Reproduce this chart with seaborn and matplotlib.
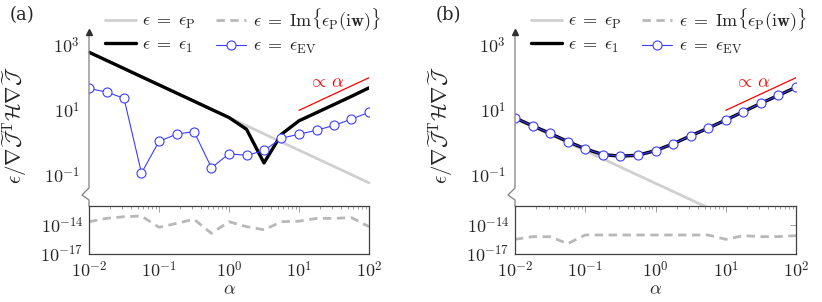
"""
plot.py - Two-panel log-log chart with a broken y-axis (upper: scaling, lower: imaginary part).
"""

import seaborn as sns
import matplotlib.pyplot as plt

#####################################
# Data
#####################################

alpha = [0.01, 0.0178, 0.0316, 0.0562, 0.1, 0.178, 0.316, 0.562, 1.0,
         1.78, 3.16, 5.62, 10.0, 17.8, 31.6, 56.2, 100.0]

# panel (a)
eps_p_a = [603, 339, 191, 107, 60.3, 33.9, 19.1, 10.7, 6.03,
           3.39, 1.91, 1.07, 0.603, 0.339, 0.191, 0.107, 0.0603]
eps_1_a = [603, 339, 191, 107, 60.3, 33.9, 19.1, 10.7, 6.03,
           2.63, 0.245, 1.86, 4.79, 8.5, 15.1, 26.9, 49.0]
eps_ev_a = [46.8, 36.3, 23.4, 0.120, 1.12, 1.86, 2.24, 0.174, 0.468,
            0.417, 0.589, 1.40, 1.86, 2.45, 3.47, 5.37, 8.71]
eps_im_a = [2.2e-14, 4.9e-14, 7.2e-14, 8.5e-14, 5.8e-15, 1.48e-14, 3.9e-14, 1.38e-15, 2.2e-14,
            6.8e-15, 3.2e-15, 2.2e-14, 2.5e-14, 4.9e-14, 4.9e-14, 5.8e-14, 6.8e-15]

# panel (b)
eps_p_b = [5.81, 3.27, 1.84, 1.03, 0.581, 0.327, 0.184, 0.103, 0.0581,
           0.0327, 0.0184, 0.0103, 0.00581, 0.00327, 0.00184, 0.00103, 0.000581]
eps_1_b = [5.81, 3.37, 1.96, 1.11, 0.661, 0.443, 0.394, 0.423, 0.587,
           0.942, 1.66, 2.86, 5.05, 9.10, 16.4, 28.8, 51.1]
eps_ev_b = [5.81, 3.37, 1.96, 1.11, 0.661, 0.443, 0.394, 0.423, 0.587,
            0.942, 1.66, 2.86, 5.05, 9.10, 16.4, 28.8, 51.1]
eps_im_b = [3.3e-16, 6.2e-16, 6.2e-16, 1.17e-16, 9.3e-16, 9.3e-16, 9.3e-16, 9.3e-16, 9.3e-16,
            9.3e-16, 9.3e-16, 9.3e-16, 3.3e-16, 7.9e-16, 6.3e-16, 6.3e-16, 7.9e-16]

# reference slope line "proportional to alpha"
ref_x = [10.0, 100.0]
ref_y = [10.0, 100.0]

panel_tags = ["(a)", "(b)"]
xticks = [1e-2, 1e-1, 1e0, 1e1, 1e2]
xtick_labels = [r"$10^{-2}$", r"$10^{-1}$", r"$10^{0}$", r"$10^{1}$", r"$10^{2}$"]
yticks_up = [1e-1, 1e1, 1e3]
ytick_labels_up = [r"$10^{-1}$", r"$10^{1}$", r"$10^{3}$"]
yticks_lo = [1e-17, 1e-14]
ytick_labels_lo = [r"$10^{-17}$", r"$10^{-14}$"]

#####################################
# Styling
#####################################

sns.set_style("white")
plt.rcParams["mathtext.fontset"] = "cm"
plt.rcParams["font.family"] = ["DejaVu Serif"]

W, H = 822, 302
FS = 13
GRAY_LINE = "#d0d0d0"
DASH_GRAY = "#b8b8b8"
BLUE = "#3c3cff"
SPINE = "#808080"
BOX = "#404040"


def draw_panel(fig, left_px, width_px, tag, eps_p, eps_1, eps_ev, eps_im):
    up = fig.add_axes([left_px / W, 1 - 206 / H, width_px / W, 174 / H])
    lo = fig.add_axes([left_px / W, 1 - 254 / H, width_px / W, 48.3 / H])
    up.patch.set_alpha(0)

    # upper part
    sns.lineplot(x=alpha, y=eps_p, ax=up, color=GRAY_LINE, lw=2.0,
                 label=r"$\epsilon\;=\;\epsilon_{\mathrm{P}}$", clip_on=False, legend=False)
    sns.lineplot(x=alpha, y=eps_1, ax=up, color="black", lw=2.4,
                 label=r"$\epsilon\;=\;\epsilon_{1}$", legend=False)
    sns.lineplot(x=alpha, y=eps_ev, ax=up, color=BLUE, lw=0.8, marker="o", ms=6.5,
                 markerfacecolor="white", markeredgecolor=BLUE, markeredgewidth=0.8,
                 label=r"$\epsilon\;=\;\epsilon_{\mathrm{EV}}$", legend=False)
    sns.lineplot(x=ref_x, y=ref_y, ax=up, color="red", lw=0.9, legend=False)
    up.text(24, 75, r"$\propto\,\alpha$", color="red", fontsize=FS, ha="center", va="center")

    up.set_xscale("log")
    up.set_yscale("log")
    up.set_xlim(1e-2, 1e2)
    up.set_ylim(10 ** -1.93, 10 ** 3.40)
    for s in up.spines.values():
        s.set_visible(False)
    up.set_xticks([])
    up.set_yticks(yticks_up)
    up.set_yticklabels(ytick_labels_up, fontsize=FS)
    up.minorticks_off()
    up.tick_params(axis="y", direction="inout", length=5, width=0.8, color=SPINE, pad=4)
    up.set_xlabel("")
    up.set_ylabel("")

    # left spine with the break zig-zag and an arrow on top
    h = 174.0
    dx = -7.0 / width_px
    up.plot([0, 0, dx, 0, 0], [1, 18 / h, 11 / h, 6 / h, 0], color=SPINE, lw=0.9,
            transform=up.transAxes, clip_on=False)
    up.plot([0], [1], marker="^", ms=4.5, color="#303030", transform=up.transAxes, clip_on=False)

    # lower part
    sns.lineplot(x=alpha, y=eps_im, ax=lo, color=DASH_GRAY, lw=2.0, linestyle=(0, (3, 2)),
                 label=r"$\epsilon\;=\;\mathrm{Im}\{\epsilon_{\mathrm{P}}(\mathrm{i}\mathbf{w})\}$",
                 legend=False)
    lo.set_xscale("log")
    lo.set_yscale("log")
    lo.set_xlim(1e-2, 1e2)
    lo.set_ylim(1e-17, 1e-12)
    lo.set_xticks(xticks)
    lo.set_xticklabels(xtick_labels, fontsize=FS)
    lo.set_yticks(yticks_lo)
    lo.set_yticklabels(ytick_labels_lo, fontsize=FS)
    lo.yaxis.set_minor_locator(plt.NullLocator())
    lo.tick_params(which="both", direction="in", top=True, right=True, color="#909090", width=0.6)
    lo.tick_params(which="major", length=4, pad=5)
    lo.tick_params(which="minor", length=2.5)
    lo.tick_params(axis="y", pad=4)
    for s in lo.spines.values():
        s.set_color(BOX)
        s.set_linewidth(0.9)
    lo.set_xlabel(r"$\alpha$", fontsize=FS, labelpad=-1)
    lo.set_ylabel("")

    # legend on top, two columns
    h1, l1 = up.get_legend_handles_labels()
    h2, l2 = lo.get_legend_handles_labels()
    handles = [h1[0], h1[1], h2[0], h1[2]]
    labels = [l1[0], l1[1], l2[0], l1[2]]
    up.legend(handles, labels, ncol=2, frameon=False, fontsize=FS,
              loc="upper left", bbox_to_anchor=(16 / width_px, 1 + 26 / h),
              handlelength=1.7, handletextpad=0.35, columnspacing=1.1,
              labelspacing=0.25, borderpad=0, borderaxespad=0)

    # panel tag and y label
    fig.text((left_px - 67) / W, 1 - 15 / H, tag, fontsize=FS, ha="center", va="center")
    fig.text((left_px - 74) / W, 1 - 125 / H,
             r"$\epsilon/\nabla\widetilde{\mathcal{J}}^{\mathrm{T}}\mathcal{H}\nabla\widetilde{\mathcal{J}}$",
             fontsize=15, rotation=90, ha="center", va="center")


def main() -> None:
    fig = plt.figure(figsize=(W / 100, H / 100), dpi=100)
    draw_panel(fig, 89, 280, panel_tags[0], eps_p_a, eps_1_a, eps_ev_a, eps_im_a)
    draw_panel(fig, 515, 281, panel_tags[1], eps_p_b, eps_1_b, eps_ev_b, eps_im_b)
    fig.savefig("out.png", dpi=100)


if __name__ == "__main__":
    main()
